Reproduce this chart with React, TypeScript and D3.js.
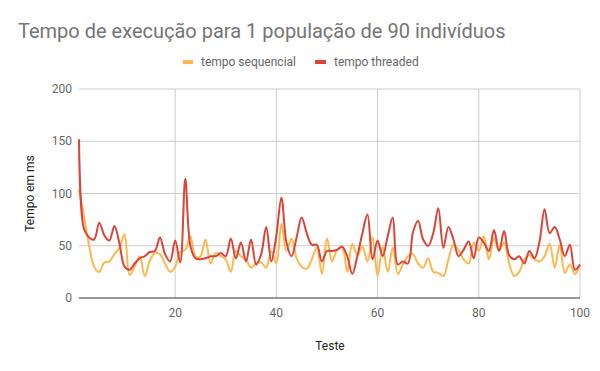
import React from 'react'
import * as d3 from 'd3'

const testes = d3.range(1, 101)

const tempoSequencial = [
  104, 78, 50, 30, 25, 34, 35, 42, 48, 61,
  22, 30, 40, 21, 36, 43, 42, 33, 25, 30,
  44, 46, 59, 40, 40, 56, 33, 43, 40, 37,
  25, 45, 40, 37, 29, 33, 34, 29, 45, 33,
  71, 45, 57, 38, 30, 28, 37, 48, 23, 57,
  35, 46, 49, 25, 52, 41, 49, 35, 58, 21,
  49, 25, 48, 23, 32, 40, 42, 33, 29, 38,
  25, 24, 21, 37, 51, 46, 37, 33, 53, 45,
  59, 37, 57, 45, 53, 33, 21, 25, 37, 41,
  37, 35, 40, 52, 29, 51, 24, 32, 23, 32
]

const tempoThreaded = [
  152, 66, 58, 56, 72, 60, 55, 69, 52, 30,
  27, 33, 38, 40, 44, 45, 58, 42, 35, 55,
  34, 114, 50, 38, 37, 38, 40, 40, 43, 40,
  57, 38, 53, 35, 56, 32, 42, 68, 35, 60,
  96, 53, 40, 58, 77, 62, 51, 51, 35, 45,
  45, 46, 49, 40, 23, 40, 62, 80, 37, 55,
  40, 59, 77, 32, 35, 33, 63, 74, 56, 50,
  62, 86, 48, 68, 56, 40, 46, 54, 38, 58,
  53, 45, 65, 45, 64, 41, 37, 40, 33, 45,
  38, 54, 85, 62, 68, 56, 40, 51, 27, 32
]

const yTicks = [0, 50, 100, 150, 200]
const xTicks = [20, 40, 60, 80, 100]

const series = [
  { name: 'tempo sequencial', values: tempoSequencial, color: '#ffb74d' },
  { name: 'tempo threaded', values: tempoThreaded, color: '#db4437' }
]

const width = 600
const height = 371
const font = 'Roboto, sans-serif'

const x = d3.scaleLinear().domain([1, 100]).range([79, 580])
const y = d3.scaleLinear().domain([0, 200]).range([298, 89])

const line = d3
  .line<number>()
  .x((_, i) => x(testes[i]))
  .y(d => y(d))
  .curve(d3.curveCatmullRom)

export default function App() {
  return (
    <svg
      width={width}
      height={height}
      style={{ position: 'absolute', left: 0, top: 0 }}
      fontFamily={font}
    >
      <rect width={width} height={height} fill="#fff" />
      <text x={18} y={38} fontSize={20} fill="#757575">
        Tempo de execução para 1 população de 90 indivíduos
      </text>

      {/* legend */}
      <g fontSize={12} fill="#666">
        <rect x={183} y={60} width={10} height={4} fill={series[0].color} />
        <text x={201} y={66}>{series[0].name}</text>
        <rect x={315} y={60} width={11} height={4} fill={series[1].color} />
        <text x={334} y={66}>{series[1].name}</text>
      </g>

      {/* grid */}
      {yTicks.slice(1).map(t => (
        <line key={'gy' + t} x1={79} x2={580} y1={y(t)} y2={y(t)} stroke="#ccc" />
      ))}
      {xTicks.map(t => (
        <line key={'gx' + t} x1={x(t)} x2={x(t)} y1={89} y2={y(0)} stroke="#ccc" />
      ))}

      {/* tick labels */}
      {yTicks.map(t => (
        <text key={'ty' + t} x={72} y={y(t)} dy="0.35em" textAnchor="end" fontSize={12} fill="#666">
          {t}
        </text>
      ))}
      {xTicks.map(t => (
        <text key={'tx' + t} x={x(t)} y={317} textAnchor="middle" fontSize={12} fill="#666">
          {t}
        </text>
      ))}

      {/* series */}
      {series.map(s => (
        <path
          key={s.name}
          d={line(s.values) || ''}
          fill="none"
          stroke={s.color}
          strokeWidth={2}
          strokeLinejoin="round"
        />
      ))}

      <line x1={79} x2={580} y1={y(0)} y2={y(0)} stroke="#333" />

      <text x={330} y={350} textAnchor="middle" fontSize={12} fill="#222">
        Teste
      </text>
      <text
        transform={`translate(34,${(y(0) + y(200)) / 2}) rotate(-90)`}
        textAnchor="middle"
        fontSize={12}
        fill="#222"
      >
        Tempo em ms
      </text>
    </svg>
  )
}
